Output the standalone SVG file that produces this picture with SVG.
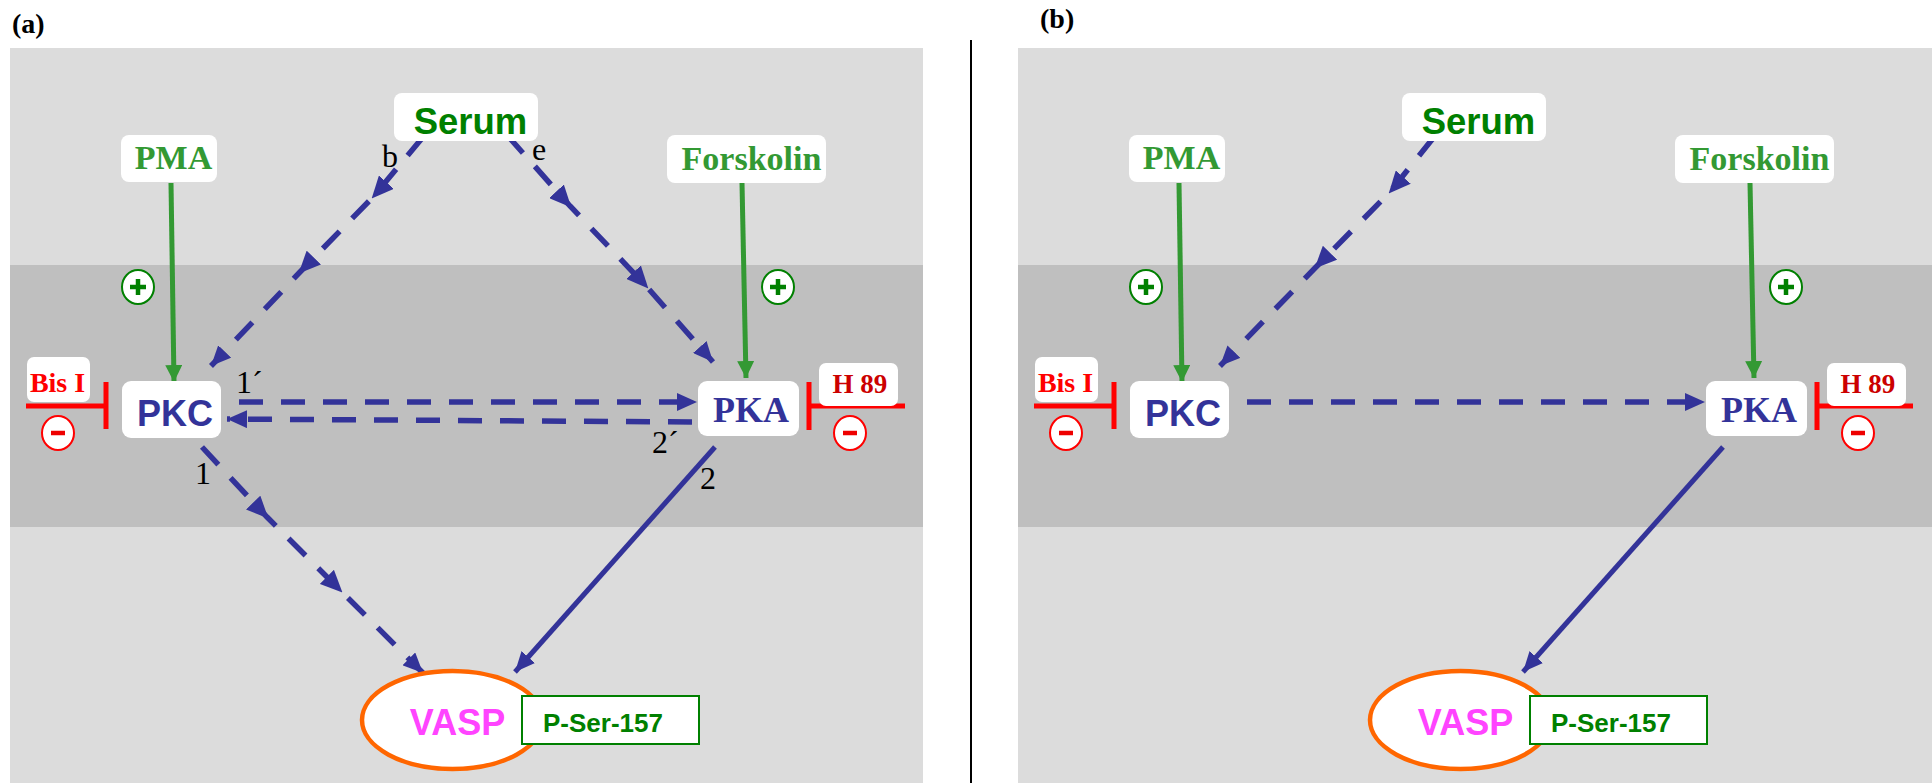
<svg xmlns="http://www.w3.org/2000/svg" width="1932" height="783" viewBox="0 0 1932 783">
<style>
.bg1{fill:#dcdcdc}
.bg2{fill:#bfbfbf}
.box{fill:#ffffff}
.sans{font-family:"Liberation Sans",Arial,sans-serif;font-weight:bold}
.serif{font-family:"Liberation Serif","Times New Roman",serif}
.bold{font-weight:bold}
.blue{fill:#333399}
.dash{fill:none;stroke:#333399;stroke-width:5.5;stroke-dasharray:24 18}
.solid{fill:none;stroke:#333399;stroke-width:5}
.act{fill:none;stroke:#339933;stroke-width:5}
.inh{fill:none;stroke:#ff0000;stroke-width:5}
.plusc{fill:#ffffff;stroke:#008000;stroke-width:2}
.plusl{stroke:#008000;stroke-width:4.5}
.minc{fill:#ffffff;stroke:#ff0000;stroke-width:2}
.minl{stroke:#ee0000;stroke-width:4.5}
.lbl{font-family:"Liberation Serif","Times New Roman",serif;font-size:32px;fill:#000}
</style>
<defs>
<marker id="ab" markerUnits="userSpaceOnUse" viewBox="0 0 20 18" markerWidth="20" markerHeight="18" refX="20" refY="9" orient="auto">
<path d="M0,0 L20,9 L0,18 z" fill="#333399"/>
</marker>
<marker id="am" markerUnits="userSpaceOnUse" viewBox="0 0 22 20" markerWidth="22" markerHeight="20" refX="20" refY="10" orient="auto">
<path d="M0,0 L22,10 L0,20 z" fill="#333399"/>
</marker>
<marker id="ag" markerUnits="userSpaceOnUse" viewBox="0 0 18 17" markerWidth="18" markerHeight="17" refX="17" refY="8.5" orient="auto">
<path d="M0,0 L17,8.5 L0,17 z" fill="#339933"/>
</marker>
</defs>

<rect x="0" y="0" width="1932" height="783" fill="#ffffff"/>

<!-- panel labels and divider -->
<text x="12" y="33" class="serif bold" font-size="28" fill="#000">(a)</text>
<text x="1040" y="28" class="serif bold" font-size="28" fill="#000">(b)</text>
<line x1="971" y1="40" x2="971" y2="783" stroke="#000" stroke-width="2"/>

<!-- ================= PANEL A ================= -->
<g id="panel-a">
<rect class="bg1" x="10" y="48" width="913" height="735"/>
<rect class="bg2" x="10" y="265" width="913" height="262"/>

<g id="a-connectors">
<polyline class="dash" points="423,137 373,197 300,272 211,366" marker-mid="url(#am)" marker-end="url(#ab)"/>
<polyline class="dash" points="507,135 570,206 647,287 713,362" marker-mid="url(#am)" marker-end="url(#ab)"/>
<line class="dash" x1="239" y1="402" x2="697" y2="402" marker-end="url(#ab)"/>
<line class="dash" x1="692" y1="422" x2="227" y2="419" marker-end="url(#ab)"/>
<polyline class="dash" points="202,447 267,517 341,591 423,673" marker-mid="url(#am)" marker-end="url(#ab)"/>
<line class="solid" x1="715" y1="447" x2="515" y2="672" marker-end="url(#ab)"/>
<line class="act" x1="171" y1="183" x2="174" y2="382" marker-end="url(#ag)"/>
<line class="act" x1="742" y1="183" x2="746" y2="378" marker-end="url(#ag)"/>
<path class="inh" d="M26,406 H106 M106,382 V429"/>
<path class="inh" d="M809,406 H905 M809,382 V430"/>
<text class="lbl" x="382" y="167">b</text>
<text class="lbl" x="532" y="160">e</text>
<text class="lbl" x="236" y="393">1´</text>
<text class="lbl" x="652" y="453">2´</text>
<text class="lbl" x="195" y="484">1</text>
<text class="lbl" x="700" y="489">2</text>
</g>

<g id="a-serum"><rect class="box" x="394" y="93" width="144" height="48" rx="8"/><text class="sans" x="470.5" y="134" font-size="36.5" text-anchor="middle" fill="#008000">Serum</text></g>
<g id="a-pma"><rect class="box" x="121" y="135" width="96" height="47" rx="8"/><text class="serif bold" x="173.5" y="169" font-size="34" text-anchor="middle" fill="#339933">PMA</text></g>
<g id="a-forskolin"><rect class="box" x="667" y="135" width="159" height="48" rx="8"/><text class="serif bold" x="751.5" y="170" font-size="34" text-anchor="middle" fill="#339933">Forskolin</text></g>
<g id="a-plus1"><ellipse class="plusc" cx="138" cy="287" rx="16" ry="17"/><path class="plusl" d="M130,287 H146 M138,279 V295"/></g>
<g id="a-plus2"><ellipse class="plusc" cx="778" cy="287" rx="16" ry="17"/><path class="plusl" d="M770,287 H786 M778,279 V295"/></g>
<g id="a-bisI"><rect class="box" x="27" y="357" width="63" height="45" rx="7"/><text class="serif bold" x="57.5" y="392" font-size="28" text-anchor="middle" fill="#ff0000">Bis I</text></g>
<g id="a-minus1"><ellipse class="minc" cx="58" cy="433" rx="16" ry="17"/><path class="minl" d="M51,433 H65"/></g>
<g id="a-pkc"><rect class="box" x="122" y="381" width="99" height="57" rx="9"/><text class="sans blue" x="175" y="426" font-size="36" text-anchor="middle">PKC</text></g>
<g id="a-pka"><rect class="box" x="698" y="381" width="101" height="55" rx="9"/><text class="serif bold blue" x="751" y="422" font-size="36" text-anchor="middle">PKA</text></g>
<g id="a-h89"><rect class="box" x="819" y="363" width="79" height="43" rx="7"/><text class="serif bold" x="860" y="393" font-size="27" text-anchor="middle" fill="#cc0000">H 89</text></g>
<g id="a-minus2"><ellipse class="minc" cx="850" cy="433" rx="16" ry="17"/><path class="minl" d="M843,433 H857"/></g>
<g id="a-vasp"><ellipse cx="452.5" cy="720" rx="90.5" ry="49" fill="#ffffff" stroke="#ff6600" stroke-width="4.5"/><text class="sans" x="457.5" y="735" font-size="36" text-anchor="middle" fill="#ff44ff">VASP</text></g>
<g id="a-pser"><rect x="522" y="696" width="177" height="48" fill="#ffffff" stroke="#008000" stroke-width="2"/><text class="sans" x="543" y="732" font-size="26" fill="#008000">P-Ser-157</text></g>
</g>

<!-- ================= PANEL B ================= -->
<g id="panel-b" transform="translate(1008,0)">
<rect class="bg1" x="10" y="48" width="930" height="735"/>
<rect class="bg2" x="10" y="265" width="930" height="262"/>

<g id="b-connectors">
<polyline class="dash" points="426,137 382,192 308,267 212,366" marker-mid="url(#am)" marker-end="url(#ab)"/>
<line class="dash" x1="239" y1="402" x2="697" y2="402" marker-end="url(#ab)"/>
<line class="solid" x1="715" y1="447" x2="515" y2="672" marker-end="url(#ab)"/>
<line class="act" x1="171" y1="183" x2="174" y2="382" marker-end="url(#ag)"/>
<line class="act" x1="742" y1="183" x2="746" y2="378" marker-end="url(#ag)"/>
<path class="inh" d="M26,406 H106 M106,382 V429"/>
<path class="inh" d="M809,406 H905 M809,382 V430"/>
</g>

<g id="b-serum"><rect class="box" x="394" y="93" width="144" height="48" rx="8"/><text class="sans" x="470.5" y="134" font-size="36.5" text-anchor="middle" fill="#008000">Serum</text></g>
<g id="b-pma"><rect class="box" x="121" y="135" width="96" height="47" rx="8"/><text class="serif bold" x="173.5" y="169" font-size="34" text-anchor="middle" fill="#339933">PMA</text></g>
<g id="b-forskolin"><rect class="box" x="667" y="135" width="159" height="48" rx="8"/><text class="serif bold" x="751.5" y="170" font-size="34" text-anchor="middle" fill="#339933">Forskolin</text></g>
<g id="b-plus1"><ellipse class="plusc" cx="138" cy="287" rx="16" ry="17"/><path class="plusl" d="M130,287 H146 M138,279 V295"/></g>
<g id="b-plus2"><ellipse class="plusc" cx="778" cy="287" rx="16" ry="17"/><path class="plusl" d="M770,287 H786 M778,279 V295"/></g>
<g id="b-bisI"><rect class="box" x="27" y="357" width="63" height="45" rx="7"/><text class="serif bold" x="57.5" y="392" font-size="28" text-anchor="middle" fill="#ff0000">Bis I</text></g>
<g id="b-minus1"><ellipse class="minc" cx="58" cy="433" rx="16" ry="17"/><path class="minl" d="M51,433 H65"/></g>
<g id="b-pkc"><rect class="box" x="122" y="381" width="99" height="57" rx="9"/><text class="sans blue" x="175" y="426" font-size="36" text-anchor="middle">PKC</text></g>
<g id="b-pka"><rect class="box" x="698" y="381" width="101" height="55" rx="9"/><text class="serif bold blue" x="751" y="422" font-size="36" text-anchor="middle">PKA</text></g>
<g id="b-h89"><rect class="box" x="819" y="363" width="79" height="43" rx="7"/><text class="serif bold" x="860" y="393" font-size="27" text-anchor="middle" fill="#cc0000">H 89</text></g>
<g id="b-minus2"><ellipse class="minc" cx="850" cy="433" rx="16" ry="17"/><path class="minl" d="M843,433 H857"/></g>
<g id="b-vasp"><ellipse cx="452.5" cy="720" rx="90.5" ry="49" fill="#ffffff" stroke="#ff6600" stroke-width="4.5"/><text class="sans" x="457.5" y="735" font-size="36" text-anchor="middle" fill="#ff44ff">VASP</text></g>
<g id="b-pser"><rect x="522" y="696" width="177" height="48" fill="#ffffff" stroke="#008000" stroke-width="2"/><text class="sans" x="543" y="732" font-size="26" fill="#008000">P-Ser-157</text></g>
</g>
</svg>
